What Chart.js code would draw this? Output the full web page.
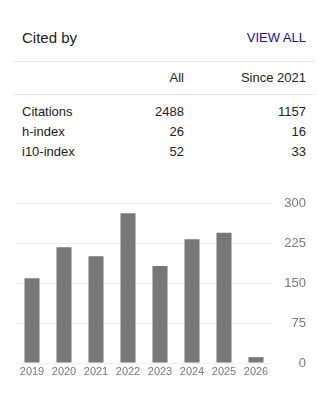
<!DOCTYPE html>
<html>
<head>
<meta charset="utf-8">
<script src="https://cdn.jsdelivr.net/npm/chart.js@4"></script>
<style>
  body { margin: 0; background: #fff; font-family: Arial, "Liberation Sans", sans-serif; color: #222; }
  #box { position: relative; width: 318px; height: 394px; overflow: hidden; }
  .t { position: absolute; white-space: nowrap; font-size: 13px; line-height: 15px; }
  .r { text-align: right; }
  .hr { position: absolute; left: 14px; width: 301px; height: 1px; background: #e5e5e5; }
  #wrap { position: absolute; left: 14px; top: 191px; width: 292px; height: 188px; }
</style>
</head>
<body>
<div id="box">
  <div class="t" style="left:22px;top:29px;font-size:15px;line-height:18px;">Cited by</div>
  <div class="t r" style="right:12px;top:30px;color:#1a0dab;">VIEW ALL</div>
  <div class="hr" style="top:61px;"></div>
  <div class="t r" style="right:134px;top:70px;">All</div>
  <div class="t r" style="right:12px;top:70px;">Since 2021</div>
  <div class="hr" style="top:94px;"></div>
  <div id="rows"></div>
  <div id="wrap"><canvas id="myChart"></canvas></div>
</div>
<script>
// citation table
var rowNames = ['Citations', 'h-index', 'i10-index'];
var allValues = [2488, 26, 52];
var sinceValues = [1157, 16, 33];

// citations per year
var years = ['2019', '2020', '2021', '2022', '2023', '2024', '2025', '2026'];
var counts = [159, 217, 200, 281, 182, 232, 244, 11];
var yTicks = [0, 75, 150, 225, 300];

var rows = document.getElementById('rows');
rowNames.forEach((name, i) => {
    var top = 104 + i * 20;
    rows.innerHTML +=
        '<div class="t" style="left:22px;top:' + top + 'px;">' + name + '</div>' +
        '<div class="t r" style="right:134px;top:' + top + 'px;">' + allValues[i] + '</div>' +
        '<div class="t r" style="right:12px;top:' + top + 'px;">' + sinceValues[i] + '</div>';
});

var ctx = document.getElementById('myChart');
var myChart = new Chart(ctx, {
    type: 'bar',
    data: {
        labels: years,
        datasets: [{
            data: counts,
            backgroundColor: '#777777',
            barPercentage: 0.47,
            categoryPercentage: 1
        }]
    },
    options: {
        responsive: true,
        maintainAspectRatio: false,
        animation: false,
        layout: { padding: { top: 12, left: 2, right: 0, bottom: 0 } },
        plugins: { legend: { display: false }, tooltip: { enabled: false } },
        scales: {
            x: {
                grid: { display: false, drawTicks: false },
                border: { display: false },
                ticks: {
                    color: '#777',
                    font: { family: 'Arial', size: 11 },
                    padding: 2,
                    maxRotation: 0,
                    autoSkip: false
                },
                afterFit: (s) => { s.height = 16; }
            },
            y: {
                position: 'right',
                min: 0,
                max: 300,
                afterBuildTicks: (s) => { s.ticks = yTicks.map(v => ({ value: v })); },
                grid: { color: '#eeeeee', drawTicks: false },
                border: { display: false },
                ticks: {
                    color: '#777',
                    font: { family: 'Arial', size: 13 },
                    crossAlign: 'far',
                    padding: 0
                },
                afterFit: (s) => { s.width = 34; }
            }
        }
    }
});
</script>
</body>
</html>
